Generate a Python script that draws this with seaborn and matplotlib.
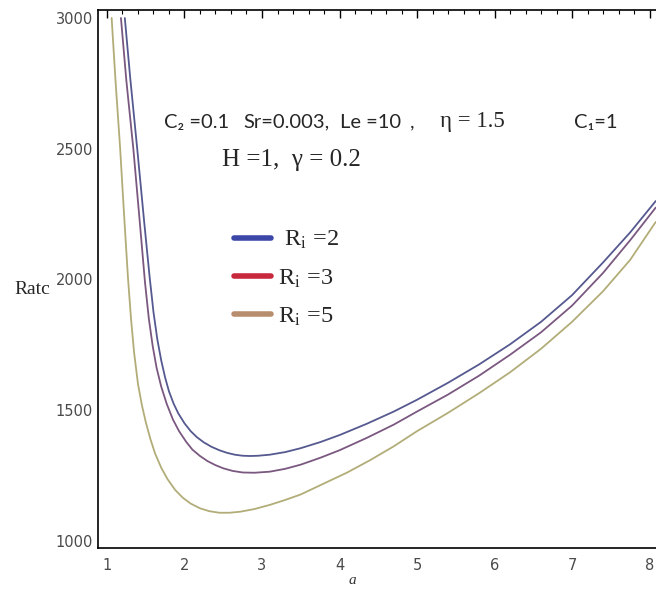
import matplotlib
matplotlib.use("Agg")
import matplotlib.pyplot as plt
from matplotlib.lines import Line2D
from matplotlib.ticker import MultipleLocator
import seaborn as sns
import pandas as pd

# values
a_ri2 = [1.23, 1.30, 1.39, 1.48, 1.55, 1.60, 1.65, 1.70, 1.75, 1.80, 1.86, 1.92, 2.00, 2.08,
         2.16, 2.25, 2.35, 2.45, 2.55, 2.65, 2.75, 2.85, 2.95, 3.10, 3.30, 3.50, 3.75, 4.00,
         4.35, 4.70, 5.00, 5.40, 5.80, 6.20, 6.60, 7.00, 7.40, 7.75, 8.08]
ratc_ri2 = [3000, 2770, 2500, 2220, 2010, 1875, 1770, 1690, 1625, 1572, 1525, 1488, 1450, 1420,
            1397, 1377, 1360, 1347, 1337, 1330, 1326, 1325, 1326, 1330, 1340, 1355, 1378, 1405,
            1448, 1495, 1540, 1605, 1675, 1752, 1838, 1940, 2065, 2180, 2300]

a_ri3 = [1.18, 1.25, 1.34, 1.42, 1.49, 1.54, 1.59, 1.64, 1.70, 1.77, 1.85, 1.93, 2.02, 2.10,
         2.20, 2.30, 2.40, 2.50, 2.62, 2.75, 2.90, 3.10, 3.30, 3.50, 3.75, 4.00, 4.35, 4.70,
         5.00, 5.40, 5.80, 6.20, 6.60, 7.00, 7.40, 7.75, 8.08]
ratc_ri3 = [3000, 2760, 2500, 2230, 1990, 1850, 1745, 1662, 1590, 1525, 1465, 1420, 1380, 1350,
            1325, 1305, 1290, 1278, 1268, 1262, 1261, 1265, 1276, 1292, 1318, 1347, 1394, 1445,
            1495, 1560, 1632, 1712, 1798, 1900, 2025, 2150, 2275]

a_ri5 = [1.06, 1.11, 1.17, 1.22, 1.27, 1.31, 1.35, 1.40, 1.45, 1.50, 1.56, 1.62, 1.70, 1.78,
         1.88, 1.98, 2.08, 2.20, 2.32, 2.45, 2.58, 2.72, 2.90, 3.10, 3.30, 3.50, 3.80, 4.10,
         4.40, 4.70, 5.00, 5.40, 5.80, 6.20, 6.60, 7.00, 7.40, 7.75, 8.08]
ratc_ri5 = [3000, 2760, 2500, 2250, 2010, 1850, 1720, 1600, 1520, 1455, 1390, 1335, 1280, 1237,
            1195, 1165, 1143, 1125, 1114, 1108, 1108, 1112, 1122, 1138, 1157, 1178, 1220, 1262,
            1310, 1362, 1420, 1490, 1565, 1645, 1735, 1838, 1955, 2075, 2220]

labels = ["Ri=2", "Ri=3", "Ri=5"]
line_colors = ["#55598f", "#7a5880", "#b2ad78"]
legend_colors = ["#3d47a8", "#c8283c", "#b88d6e"]

df = pd.concat([
    pd.DataFrame({"a": a_ri2, "Ratc": ratc_ri2, "case": labels[0]}),
    pd.DataFrame({"a": a_ri3, "Ratc": ratc_ri3, "case": labels[1]}),
    pd.DataFrame({"a": a_ri5, "Ratc": ratc_ri5, "case": labels[2]}),
])

sns.set_style("white")
plt.rcParams["mathtext.fontset"] = "stix"

fig = plt.figure(figsize=(6.56, 5.98), dpi=100)
ax = fig.add_axes([98 / 656, 1 - 548 / 598, 564 / 656, 538 / 598])

sns.lineplot(data=df, x="a", y="Ratc", hue="case", palette=line_colors,
             sort=False, estimator=None, linewidth=1.3, legend=False, ax=ax)

ax.set_xlim(0.884, 8.161)
ax.set_ylim(973.2, 3030.6)
ax.xaxis.set_major_locator(MultipleLocator(1))
ax.xaxis.set_minor_locator(MultipleLocator(0.2))
ax.yaxis.set_major_locator(MultipleLocator(500))
ax.yaxis.set_minor_locator(MultipleLocator(100))
ax.tick_params(which="both", direction="in", top=True, right=False, color="black",
               labelsize=10.5, labelcolor="#4a4a4a")
ax.tick_params(which="major", length=6, width=1)
ax.tick_params(which="minor", length=3, width=0.8)
ax.tick_params(axis="x", pad=7)
for side in ["left", "bottom", "top"]:
    ax.spines[side].set_color("black")
    ax.spines[side].set_linewidth(1.2)
ax.spines["right"].set_visible(False)
ax.set_xlabel("")
ax.set_ylabel("")

fig.text(14 / 656, 1 - 290 / 598, "Ratc", fontsize=14, family="Liberation Serif", va="center")
fig.text(352 / 656, 1 - 580 / 598, "a", fontsize=11, family="Liberation Serif",
         style="italic", ha="center", va="center", color="#333333")

# parameter annotation
sans = ["Lato", "DejaVu Sans"]
row1 = 1 - 122 / 598
fig.text(164 / 656, row1, "C₂ =0.1", fontsize=14.5, family=sans, va="center")
fig.text(243 / 656, row1, "Sr=0.003,", fontsize=14.5, family=sans, va="center")
fig.text(340 / 656, row1, "Le =10", fontsize=14.5, family=sans, va="center")
fig.text(410 / 656, row1, ",", fontsize=14.5, family=sans, va="center")
fig.text(440 / 656, row1, "η = 1.5", fontsize=16.5, family="Liberation Serif", va="center")
fig.text(574 / 656, row1, "C₁=1", fontsize=14.5, family=sans, va="center")
fig.text(222 / 656, 1 - 160 / 598, "H =1,  γ = 0.2", fontsize=18, family="Liberation Serif",
         va="center")

handles = [Line2D([], [], color=c, linewidth=4) for c in legend_colors]
leg_labels = [r" R$_\mathrm{i}$ =2", r"R$_\mathrm{i}$ =3", r"R$_\mathrm{i}$ =5"]
leg = ax.legend(handles, leg_labels, loc="upper left", bbox_to_anchor=(222 / 656, 1 - 217 / 598),
                bbox_transform=fig.transFigure, frameon=False, handlelength=1.5,
                handletextpad=0.3, labelspacing=0.65, borderpad=0,
                prop={"family": "Liberation Serif", "size": 17.5})

fig.savefig("out.png", dpi=100)
